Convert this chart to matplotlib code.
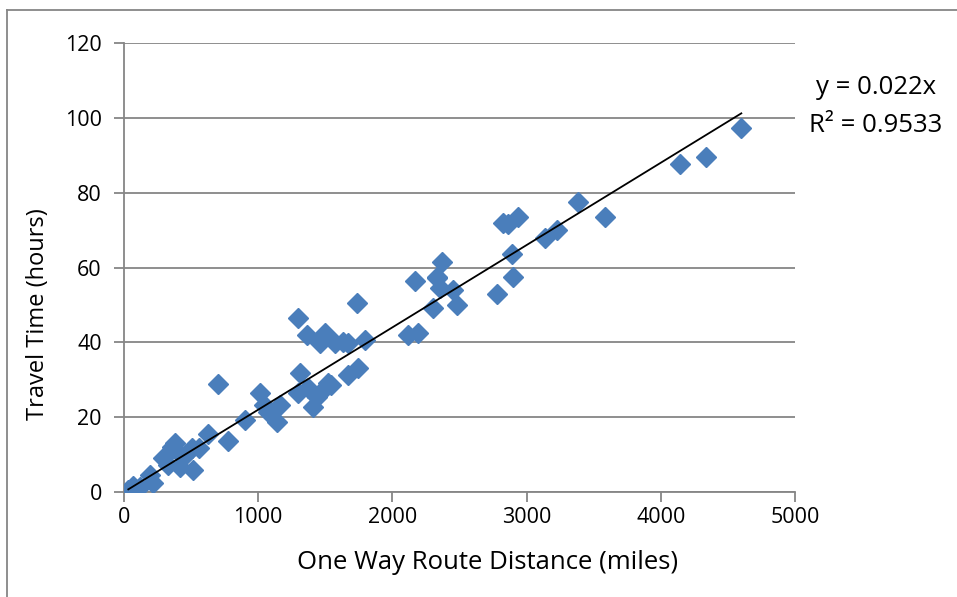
import matplotlib
matplotlib.use('Agg')
import matplotlib.pyplot as plt
from matplotlib.lines import Line2D
import numpy as np

# route distance (miles) vs travel time (hours)
distance = [32, 70, 119, 194, 218, 293, 330, 355, 380, 417, 442, 460, 504, 516, 560,
            628, 703, 777, 902, 1013, 1040, 1075, 1138, 1162,
            1299, 1311, 1299, 1361, 1373, 1411, 1440, 1460, 1460, 1498, 1522, 1540,
            1572, 1634, 1671, 1671, 1734, 1745, 1796,
            2119, 2168, 2193, 2305, 2330, 2330, 2355, 2367, 2454, 2479,
            2777, 2824, 2860, 2888, 2901, 2937, 3137, 3224, 3385, 3584,
            4143, 4334, 4600]
hours = [0.5, 1.5, 1.4, 4.5, 2.3, 9.0, 7.2, 12.1, 13.0, 6.8, 9.4, 10.2, 11.7, 5.9, 11.8,
         15.5, 28.9, 13.6, 19.3, 26.5, 23.3, 21.5, 18.6, 23.2,
         46.4, 31.7, 26.4, 42.0, 27.7, 22.8, 25.5, 39.8, 26.4, 42.4, 29.1, 28.5,
         39.8, 40.2, 39.8, 31.3, 50.4, 33.1, 40.6,
         42.0, 56.5, 42.6, 49.3, 57.4, 57.1, 54.5, 61.6, 54.0, 50.0,
         53.0, 71.8, 71.6, 63.7, 57.4, 73.6, 68.0, 69.9, 77.4, 73.4,
         87.7, 89.5, 97.2]

slope = 0.022
r_squared = 0.9533

plt.rcParams['font.family'] = ['Open Sans', 'DejaVu Sans']

fig = plt.figure(figsize=(9.57, 5.97), dpi=100)
ax = fig.add_axes([124 / 957, 1 - 492 / 597, (795 - 124) / 957, (492 - 43) / 597])

grid_col = '#868686'
ax.set_xlim(0, 5000)
ax.set_ylim(0, 120)
ax.set_xticks(np.arange(0, 5001, 1000))
ax.set_yticks(np.arange(0, 121, 20))
ax.yaxis.grid(True, color=grid_col, linewidth=1.3)
ax.set_axisbelow(True)
for side in ['top', 'right']:
    ax.spines[side].set_visible(False)
for side in ['left', 'bottom']:
    ax.spines[side].set_color(grid_col)
    ax.spines[side].set_linewidth(1.3)
ax.tick_params(axis='both', direction='out', length=7, width=1.3, color=grid_col,
               labelsize=15.5, labelcolor='black')
ax.tick_params(axis='y', pad=9)
ax.tick_params(axis='x', pad=4)

ax.plot(distance, hours, linestyle='none', marker='D', markersize=10,
        markerfacecolor='#4A7EBB', markeredgecolor='#4A7EBB', zorder=3)

# linear trend through origin, over the data range
xs = np.array([min(distance), max(distance)])
ax.plot(xs, slope * xs, color='black', linewidth=1.3, zorder=4)

ax.set_xlabel('One Way Route Distance (miles)', fontsize=18.5, va='center')
ax.xaxis.set_label_coords(0.542, -0.156)
ax.set_ylabel('Travel Time (hours)', fontsize=17, va='center')
ax.yaxis.set_label_coords(-0.128, 0.396)

fig.text(876 / 957, 1 - 88 / 597, 'y = 0.022x', fontsize=18.5, ha='center', va='center')
fig.text(876 / 957, 1 - 126 / 597, 'R² = %.4f' % r_squared, fontsize=18.5,
         ha='center', va='center')

# chart area border
fig.add_artist(Line2D([7 / 957, 1], [1 - 10 / 597, 1 - 10 / 597], color=grid_col,
                      linewidth=1.3, transform=fig.transFigure))
fig.add_artist(Line2D([7 / 957, 7 / 957], [0, 1 - 10 / 597], color=grid_col,
                      linewidth=1.3, transform=fig.transFigure))

fig.savefig('out.png', dpi=100)
